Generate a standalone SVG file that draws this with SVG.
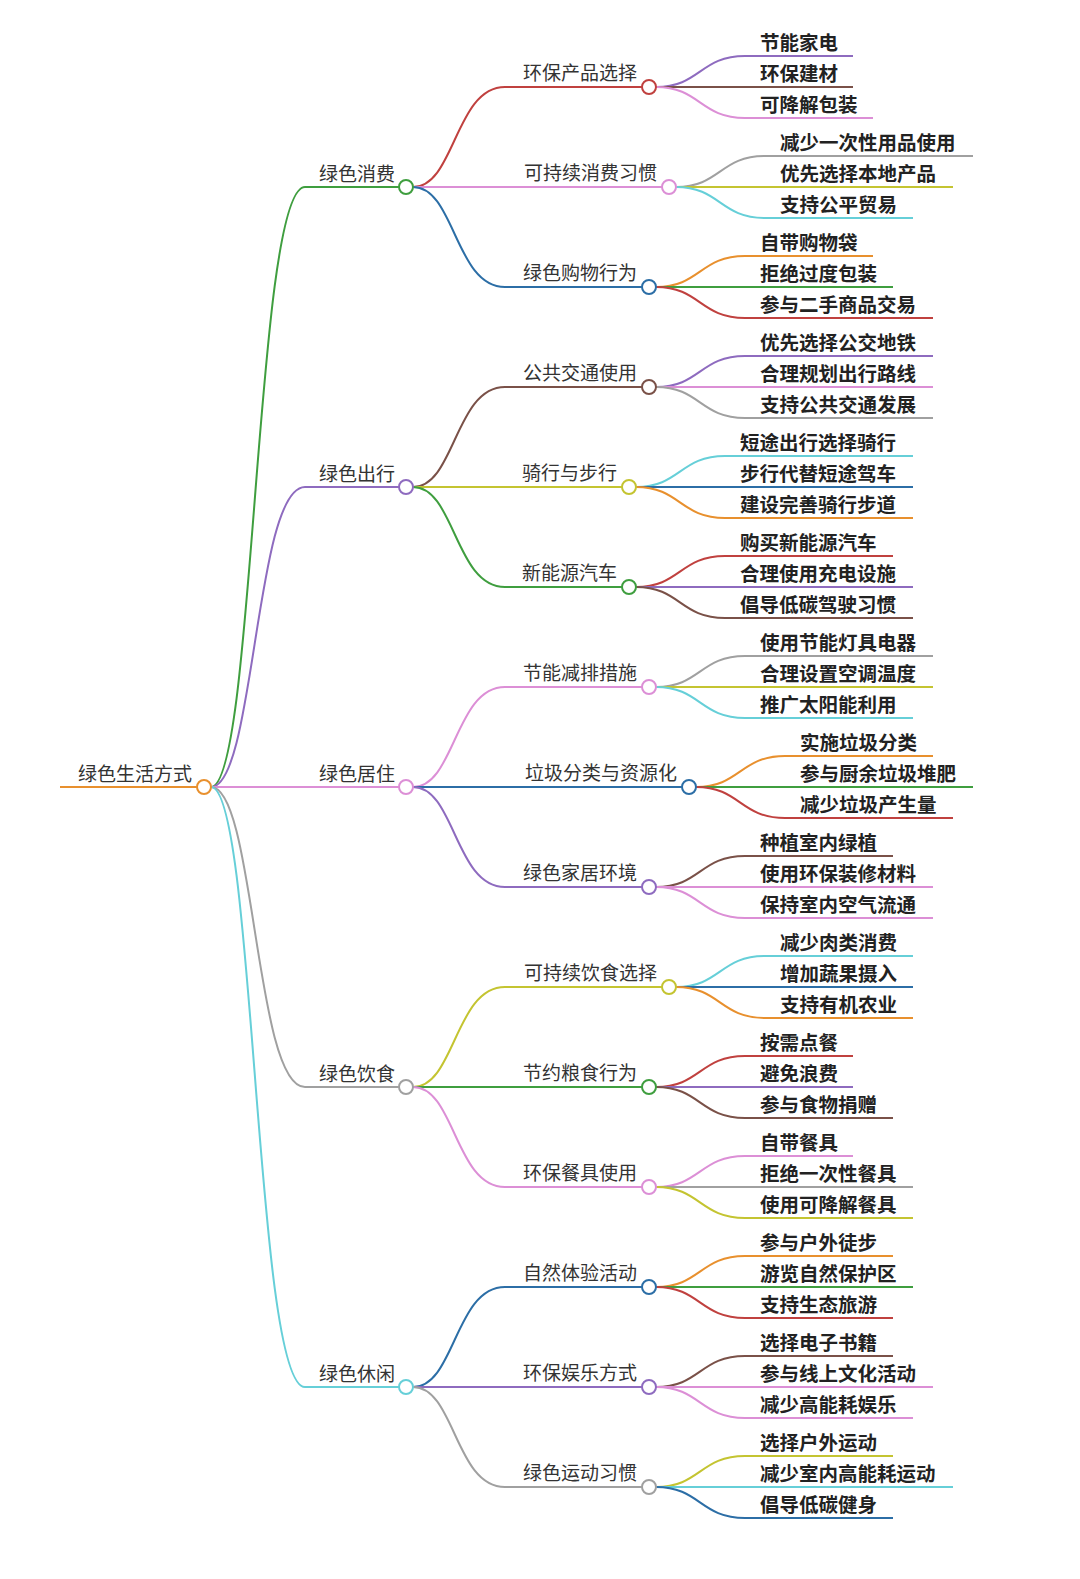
<svg xmlns="http://www.w3.org/2000/svg" width="1080" height="1579" viewBox="0 0 1080 1579">
<style>
.e{fill:none;stroke-width:2}
.n{fill:#fff;stroke-width:2}
.t{font-family:"Noto Sans CJK SC","Noto Sans",sans-serif;font-size:19px;fill:#333}
.l{font-family:"Noto Sans CJK SC","Noto Sans",sans-serif;font-size:19.5px;font-weight:bold;fill:#222}
.r{text-anchor:end}
.gr{stroke:#3f9e3f}.pu{stroke:#8e6bbf}.pk{stroke:#dc8fd6}.gy{stroke:#a0a0a0}.cy{stroke:#66cfd8}.or{stroke:#e8902e}.rd{stroke:#c0413f}.bl{stroke:#2c6ea6}.br{stroke:#7a5148}.ol{stroke:#c4c431}
</style>
<rect width="1080" height="1579" fill="#fff"/>
<g id="connectors">
<path class="e or" d="M60,787 H197"/>
<path class="e gr" d="M211,787 C255,787 255,187 305,187 H399"/>
<path class="e pu" d="M211,787 C255,787 255,487 305,487 H399"/>
<path class="e pk" d="M211,787 H399"/>
<path class="e gy" d="M211,787 C255,787 255,1087 305,1087 H399"/>
<path class="e cy" d="M211,787 C255,787 255,1387 305,1387 H399"/>
<path class="e rd" d="M413,187 C455,187 455,87 505,87 H642"/>
<path class="e pk" d="M413,187 H662"/>
<path class="e bl" d="M413,187 C455,187 455,287 505,287 H642"/>
<path class="e br" d="M413,487 C455,487 455,387 505,387 H642"/>
<path class="e ol" d="M413,487 H622"/>
<path class="e gr" d="M413,487 C455,487 455,587 505,587 H622"/>
<path class="e pk" d="M413,787 C455,787 455,687 505,687 H642"/>
<path class="e bl" d="M413,787 H682"/>
<path class="e pu" d="M413,787 C455,787 455,887 505,887 H642"/>
<path class="e ol" d="M413,1087 C455,1087 455,987 505,987 H662"/>
<path class="e gr" d="M413,1087 H642"/>
<path class="e pk" d="M413,1087 C455,1087 455,1187 505,1187 H642"/>
<path class="e bl" d="M413,1387 C455,1387 455,1287 505,1287 H642"/>
<path class="e pu" d="M413,1387 H642"/>
<path class="e gy" d="M413,1387 C455,1387 455,1487 505,1487 H642"/>
<!-- leaves -->
<path class="e pu" d="M656,87 C700,87 700,56 745,56 H853"/>
<path class="e br" d="M656,87 H853"/>
<path class="e pk" d="M656,87 C700,87 700,118 745,118 H873"/>
<path class="e gy" d="M676,187 C720,187 720,156 765,156 H973"/>
<path class="e ol" d="M676,187 H953"/>
<path class="e cy" d="M676,187 C720,187 720,218 765,218 H913"/>
<path class="e or" d="M656,287 C700,287 700,256 745,256 H873"/>
<path class="e gr" d="M656,287 H893"/>
<path class="e rd" d="M656,287 C700,287 700,318 745,318 H933"/>
<path class="e pu" d="M656,387 C700,387 700,356 745,356 H933"/>
<path class="e pk" d="M656,387 H933"/>
<path class="e gy" d="M656,387 C700,387 700,418 745,418 H933"/>
<path class="e cy" d="M636,487 C680,487 680,456 725,456 H913"/>
<path class="e bl" d="M636,487 H913"/>
<path class="e or" d="M636,487 C680,487 680,518 725,518 H913"/>
<path class="e rd" d="M636,587 C680,587 680,556 725,556 H893"/>
<path class="e pu" d="M636,587 H913"/>
<path class="e br" d="M636,587 C680,587 680,618 725,618 H913"/>
<path class="e gy" d="M656,687 C700,687 700,656 745,656 H933"/>
<path class="e ol" d="M656,687 H933"/>
<path class="e cy" d="M656,687 C700,687 700,718 745,718 H913"/>
<path class="e or" d="M696,787 C740,787 740,756 785,756 H933"/>
<path class="e gr" d="M696,787 H973"/>
<path class="e rd" d="M696,787 C740,787 740,818 785,818 H953"/>
<path class="e br" d="M656,887 C700,887 700,856 745,856 H893"/>
<path class="e pk" d="M656,887 H933"/>
<path class="e pk" d="M656,887 C700,887 700,918 745,918 H933"/>
<path class="e cy" d="M676,987 C720,987 720,956 765,956 H913"/>
<path class="e bl" d="M676,987 H913"/>
<path class="e or" d="M676,987 C720,987 720,1018 765,1018 H913"/>
<path class="e rd" d="M656,1087 C700,1087 700,1056 745,1056 H853"/>
<path class="e pu" d="M656,1087 H853"/>
<path class="e br" d="M656,1087 C700,1087 700,1118 745,1118 H893"/>
<path class="e pk" d="M656,1187 C700,1187 700,1156 745,1156 H853"/>
<path class="e gy" d="M656,1187 H913"/>
<path class="e ol" d="M656,1187 C700,1187 700,1218 745,1218 H913"/>
<path class="e or" d="M656,1287 C700,1287 700,1256 745,1256 H893"/>
<path class="e gr" d="M656,1287 H913"/>
<path class="e rd" d="M656,1287 C700,1287 700,1318 745,1318 H893"/>
<path class="e br" d="M656,1387 C700,1387 700,1356 745,1356 H893"/>
<path class="e pk" d="M656,1387 H933"/>
<path class="e pk" d="M656,1387 C700,1387 700,1418 745,1418 H913"/>
<path class="e ol" d="M656,1487 C700,1487 700,1456 745,1456 H893"/>
<path class="e cy" d="M656,1487 H953"/>
<path class="e bl" d="M656,1487 C700,1487 700,1518 745,1518 H893"/>
</g>
<g id="root"><circle class="n or" cx="204" cy="787" r="7"/><text class="t r" x="192" y="781">绿色生活方式</text></g>
<g id="n1"><circle class="n gr" cx="406" cy="187" r="7"/><text class="t r" x="395" y="181">绿色消费</text></g>
<g id="n2"><circle class="n pu" cx="406" cy="487" r="7"/><text class="t r" x="395" y="481">绿色出行</text></g>
<g id="n3"><circle class="n pk" cx="406" cy="787" r="7"/><text class="t r" x="395" y="781">绿色居住</text></g>
<g id="n4"><circle class="n gy" cx="406" cy="1087" r="7"/><text class="t r" x="395" y="1081">绿色饮食</text></g>
<g id="n5"><circle class="n cy" cx="406" cy="1387" r="7"/><text class="t r" x="395" y="1381">绿色休闲</text></g>
<g id="n11"><circle class="n rd" cx="649" cy="87" r="7"/><text class="t r" x="637" y="80">环保产品选择</text></g>
<g id="n12"><circle class="n pk" cx="669" cy="187" r="7"/><text class="t r" x="657" y="180">可持续消费习惯</text></g>
<g id="n13"><circle class="n bl" cx="649" cy="287" r="7"/><text class="t r" x="637" y="280">绿色购物行为</text></g>
<g id="n21"><circle class="n br" cx="649" cy="387" r="7"/><text class="t r" x="637" y="380">公共交通使用</text></g>
<g id="n22"><circle class="n ol" cx="629" cy="487" r="7"/><text class="t r" x="617" y="480">骑行与步行</text></g>
<g id="n23"><circle class="n gr" cx="629" cy="587" r="7"/><text class="t r" x="617" y="580">新能源汽车</text></g>
<g id="n31"><circle class="n pk" cx="649" cy="687" r="7"/><text class="t r" x="637" y="680">节能减排措施</text></g>
<g id="n32"><circle class="n bl" cx="689" cy="787" r="7"/><text class="t r" x="677" y="780">垃圾分类与资源化</text></g>
<g id="n33"><circle class="n pu" cx="649" cy="887" r="7"/><text class="t r" x="637" y="880">绿色家居环境</text></g>
<g id="n41"><circle class="n ol" cx="669" cy="987" r="7"/><text class="t r" x="657" y="980">可持续饮食选择</text></g>
<g id="n42"><circle class="n gr" cx="649" cy="1087" r="7"/><text class="t r" x="637" y="1080">节约粮食行为</text></g>
<g id="n43"><circle class="n pk" cx="649" cy="1187" r="7"/><text class="t r" x="637" y="1180">环保餐具使用</text></g>
<g id="n51"><circle class="n bl" cx="649" cy="1287" r="7"/><text class="t r" x="637" y="1280">自然体验活动</text></g>
<g id="n52"><circle class="n pu" cx="649" cy="1387" r="7"/><text class="t r" x="637" y="1380">环保娱乐方式</text></g>
<g id="n53"><circle class="n gy" cx="649" cy="1487" r="7"/><text class="t r" x="637" y="1480">绿色运动习惯</text></g>
<g id="leaves">
<text class="l" x="760" y="50">节能家电</text><text class="l" x="760" y="81">环保建材</text><text class="l" x="760" y="112">可降解包装</text>
<text class="l" x="780" y="150">减少一次性用品使用</text><text class="l" x="780" y="181">优先选择本地产品</text><text class="l" x="780" y="212">支持公平贸易</text>
<text class="l" x="760" y="250">自带购物袋</text><text class="l" x="760" y="281">拒绝过度包装</text><text class="l" x="760" y="312">参与二手商品交易</text>
<text class="l" x="760" y="350">优先选择公交地铁</text><text class="l" x="760" y="381">合理规划出行路线</text><text class="l" x="760" y="412">支持公共交通发展</text>
<text class="l" x="740" y="450">短途出行选择骑行</text><text class="l" x="740" y="481">步行代替短途驾车</text><text class="l" x="740" y="512">建设完善骑行步道</text>
<text class="l" x="740" y="550">购买新能源汽车</text><text class="l" x="740" y="581">合理使用充电设施</text><text class="l" x="740" y="612">倡导低碳驾驶习惯</text>
<text class="l" x="760" y="650">使用节能灯具电器</text><text class="l" x="760" y="681">合理设置空调温度</text><text class="l" x="760" y="712">推广太阳能利用</text>
<text class="l" x="800" y="750">实施垃圾分类</text><text class="l" x="800" y="781">参与厨余垃圾堆肥</text><text class="l" x="800" y="812">减少垃圾产生量</text>
<text class="l" x="760" y="850">种植室内绿植</text><text class="l" x="760" y="881">使用环保装修材料</text><text class="l" x="760" y="912">保持室内空气流通</text>
<text class="l" x="780" y="950">减少肉类消费</text><text class="l" x="780" y="981">增加蔬果摄入</text><text class="l" x="780" y="1012">支持有机农业</text>
<text class="l" x="760" y="1050">按需点餐</text><text class="l" x="760" y="1081">避免浪费</text><text class="l" x="760" y="1112">参与食物捐赠</text>
<text class="l" x="760" y="1150">自带餐具</text><text class="l" x="760" y="1181">拒绝一次性餐具</text><text class="l" x="760" y="1212">使用可降解餐具</text>
<text class="l" x="760" y="1250">参与户外徒步</text><text class="l" x="760" y="1281">游览自然保护区</text><text class="l" x="760" y="1312">支持生态旅游</text>
<text class="l" x="760" y="1350">选择电子书籍</text><text class="l" x="760" y="1381">参与线上文化活动</text><text class="l" x="760" y="1412">减少高能耗娱乐</text>
<text class="l" x="760" y="1450">选择户外运动</text><text class="l" x="760" y="1481">减少室内高能耗运动</text><text class="l" x="760" y="1512">倡导低碳健身</text>
</g>
</svg>
